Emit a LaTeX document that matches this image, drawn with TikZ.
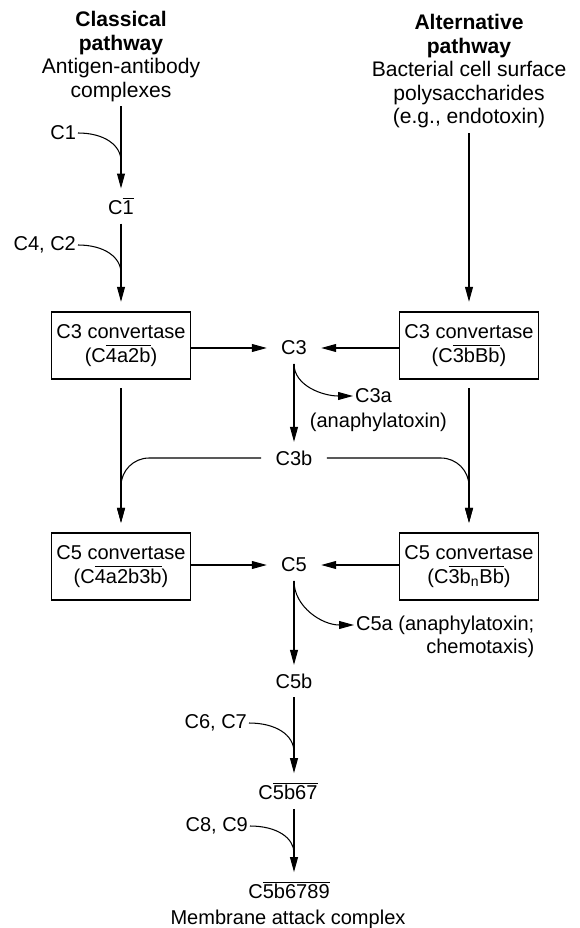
\documentclass[tikz,border=0pt]{standalone}
\usepackage{fontspec}
\setmainfont{Liberation Sans}
\usetikzlibrary{arrows.meta, positioning}

\begin{document}
\begin{tikzpicture}[
  x=0.02cm, y=-0.02cm,
  every node/.style={font=\fontsize{11.4}{13.6}\selectfont},
  head/.style={align=center, inner sep=0pt, anchor=north, font=\fontsize{12}{13.4}\selectfont},
  conv/.style={draw, line width=0.6pt, align=center, minimum width=2.78cm, minimum height=1.34cm, inner sep=2pt},
  comp/.style={inner xsep=8pt, inner ysep=4.8pt},
  side/.style={inner sep=1pt},
  arrow/.style={-{Triangle[length=8.5pt, width=4.5pt]}, line width=0.6pt},
  feed/.style={line width=0.6pt}
]
\useasboundingbox (0,0) rectangle (580,928);

\node[head] (classical) at (121,11) {\textbf{Classical}\\\textbf{pathway}\\Antigen-antibody\\complexes};
\node[head] (alternative) at (469,14) {\textbf{Alternative}\\\textbf{pathway}\\Bacterial cell surface\\polysaccharides\\(e.g., endotoxin)};

\node[side, anchor=east] (c1) at (78,133) {C1};
\coordinate (j1) at (121,161);
\node[comp] (c1bar) at (121,206) {C$\overline{\mbox{1}}$};
\node[side, anchor=east] (c4c2) at (78,245) {C4, C2};
\coordinate (j2) at (121,273);

\node[conv] (c3l) at (121,345.5) {C3 convertase\\(C$\overline{\mbox{4a2b}}$)};
\node[conv] (c3r) at (469,345.5) {C3 convertase\\(C$\overline{\mbox{3bBb}}$)};
\node[comp] (c3) at (294,348) {C3};
\node[side, anchor=west] (c3a) at (353,396) {C3a};
\node[side, below=3pt of c3a, xshift=2.8pt] (ana3) {(anaphylatoxin)};
\node[comp] (c3b) at (294,458) {C3b};

\node[conv] (c5l) at (121,566.5) {C5 convertase\\(C$\overline{\mbox{4a2b3b}}$)};
\node[conv] (c5r) at (469,566.5) {C5 convertase\\(C$\overline{\mbox{3b\textsubscript{n}Bb}}$)};
\node[comp] (c5) at (294,565) {C5};
\node[side, anchor=west] (c5a) at (354,625) {C5a (anaphylatoxin;};
\node[side, anchor=north east] (chemo) at (c5a.south east) {chemotaxis)};
\node[comp] (c5b) at (294,681) {C5b};
\node[side, anchor=east] (c6c7) at (249,723) {C6, C7};
\coordinate (j3) at (294,752);
\node[comp] (c5b67) at (288,791) {C$\overline{\mbox{5b67}}$};
\node[side, anchor=east] (c8c9) at (250,826) {C8, C9};
\coordinate (j4) at (294,853);
\node[comp] (c5b6789) at (289,890) {C$\overline{\mbox{5b6789}}$};
\node[side] (mac) at (288,919) {Membrane attack complex};

% classical side
\draw[arrow, shorten <=2.5pt] (classical) -- (c1bar);
\draw[feed] (c1.east) .. controls (104,133) and (121,145) .. (j1);
\draw[arrow, shorten >=5.5pt] (c1bar) -- (c3l);
\draw[feed] (c4c2.east) .. controls (104,245) and (121,257) .. (j2);

% alternative side
\draw[arrow, shorten <=2.8pt, shorten >=5.5pt] (alternative) -- (c3r);

% C3 step
\draw[arrow] (c3l.east |- c3) -- (c3);
\draw[arrow] (c3r.west |- c3) -- (c3);
\draw[arrow] (c3) -- (c3b);
\draw[arrow] (c3.south) .. controls +(0,22) and +(-30,0) .. (c3a.west);
\draw[arrow, shorten <=5pt, shorten >=5.5pt] (c3l) -- (c5l);
\draw[arrow, shorten <=5pt, shorten >=5.5pt] (c3r) -- (c5r);
\draw[arrow, rounded corners=16pt, shorten >=5.5pt] (c3b.west) -| (c5l.north);
\draw[arrow, rounded corners=16pt, shorten >=5.5pt] (c3b.east) -| (c5r.north);

% C5 step and terminal
\draw[arrow] (c5l.east |- c5) -- (c5);
\draw[arrow] (c5r.west |- c5) -- (c5);
\draw[arrow] (c5) -- (c5b);
\draw[arrow] (c5.south) .. controls +(0,26) and +(-32,0) .. (c5a.west);
\draw[arrow] (c5b) -- (c5b |- c5b67.north);
\draw[feed] (c6c7.east) .. controls (276,723) and (294,735) .. (j3);
\draw[arrow] (c5b67.south -| c5b) -- (c5b |- c5b6789.north);
\draw[feed] (c8c9.east) .. controls (277,826) and (294,838) .. (j4);

\end{tikzpicture}
\end{document}
